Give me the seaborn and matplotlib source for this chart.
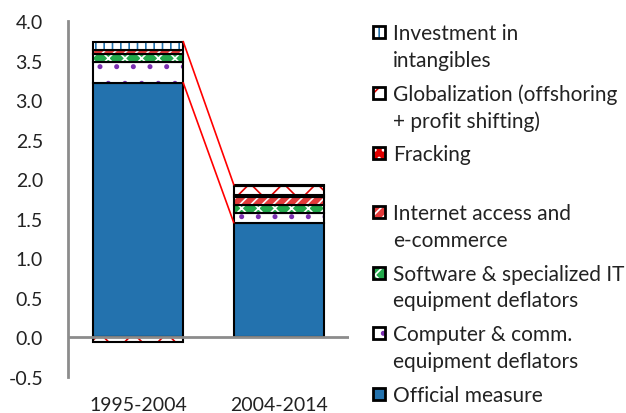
import matplotlib
matplotlib.use("Agg")
import matplotlib.pyplot as plt
from matplotlib.patches import Rectangle
import numpy as np
import seaborn as sns

periods = ["1995-2004", "2004-2014"]
official = [3.22, 1.45]
computer = [0.26, 0.12]
software = [0.10, 0.11]
internet = [0.05, 0.09]
fracking = [0.00, 0.03]
globalization = [-0.06, 0.12]
intangibles = [0.11, 0.01]

y_ticks = [-0.5, 0.0, 0.5, 1.0, 1.5, 2.0, 2.5, 3.0, 3.5, 4.0]

# (label, values, face, hatch, hatch colour), bottom to top
segments = [
    ("Official measure", official, "#2372ae", None, None),
    ("Computer & comm.\nequipment deflators", computer, "white", ".", "#7a2fb0"),
    ("Software & specialized IT\nequipment deflators", software, "#22a84b", "xx", "white"),
    ("Internet access and\ne-commerce", internet, "#e23a3a", "///", "white"),
    ("Fracking", fracking, "#e00000", "..", "white"),
    ("Globalization (offshoring\n+ profit shifting)", globalization, "white", "x", "#e00000"),
    ("Investment in\nintangibles", intangibles, "white", "||", "#2372ae"),
]

sns.set_style("white")
plt.rcParams["font.family"] = ["Lato", "DejaVu Sans"]
plt.rcParams["font.size"] = 14
plt.rcParams["hatch.linewidth"] = 1.2

W, H = 626, 414
fig = plt.figure(figsize=(W / 100, H / 100), dpi=100)
ax = fig.add_axes([68 / W, 36 / H, 281 / W, 356 / H])

bar_w = 0.64
pos_base = np.zeros(len(periods))
neg_base = np.zeros(len(periods))
for label, vals, face, hatch, hcol in segments:
    vals = np.array(vals, dtype=float)
    bottom = np.where(vals >= 0, pos_base, neg_base)
    sns.barplot(x=periods, y=vals, bottom=bottom, width=bar_w, errorbar=None,
                color=face, saturation=1, facecolor=face,
                edgecolor=hcol if hatch else face, hatch=hatch, linewidth=0, ax=ax)
    sns.barplot(x=periods, y=vals, bottom=bottom, width=bar_w, errorbar=None,
                color="black", saturation=1, facecolor="none", edgecolor="black",
                linewidth=1.5, ax=ax)
    pos_base = pos_base + np.clip(vals, 0, None)
    neg_base = neg_base + np.clip(vals, None, 0)

# connector lines between the bars
totals = pos_base
ax.plot([0 + bar_w / 2, 1 - bar_w / 2], [totals[0], totals[1]], color="red", lw=1.2, zorder=5)
ax.plot([0 + bar_w / 2, 1 - bar_w / 2], [official[0], official[1]], color="red", lw=1.2, zorder=5)

ax.axhline(0, color="#8c8c8c", lw=2, zorder=4)
ax.set_xlim(-0.5, 1.5)
ax.set_ylim(-0.5, 4.0)
ax.set_yticks(y_ticks)
ax.set_yticklabels([f"{t:.1f}" for t in y_ticks])
for s in ["top", "right", "bottom"]:
    ax.spines[s].set_visible(False)
ax.spines["left"].set_color("#8c8c8c")
ax.spines["left"].set_linewidth(2)
ax.tick_params(axis="y", direction="in", length=6, width=1.5, color="#8c8c8c",
               pad=18, labelcolor="#222222")
ax.tick_params(axis="x", length=0, pad=14, labelcolor="#222222")
ax.set_xlabel("")
ax.set_ylabel("")

# legend drawn by hand: marker beside the first line of each label
line_step = 26.5
entry_step = 34
y = 33.0
for label, vals, face, hatch, hcol in reversed(segments):
    x0, size = 373, 12
    rect_kw = dict(transform=fig.transFigure, figure=fig)
    fig.add_artist(Rectangle((x0 / W, 1 - (y + size / 2) / H), size / W, size / H,
                             facecolor=face, edgecolor=hcol if hatch else face,
                             hatch=hatch, linewidth=0, **rect_kw))
    fig.add_artist(Rectangle((x0 / W, 1 - (y + size / 2) / H), size / W, size / H,
                             facecolor="none", edgecolor="black", linewidth=2, **rect_kw))
    lines = label.split("\n")
    for i, ln in enumerate(lines):
        fig.text(393 / W, 1 - (y + i * line_step + 7.5) / H, ln, fontsize=15,
                 color="#222222", va="baseline", ha="left")
    y += (len(lines) - 1) * line_step + entry_step
    if label == "Fracking":
        y += 25

fig.savefig("out.png", dpi=100)
